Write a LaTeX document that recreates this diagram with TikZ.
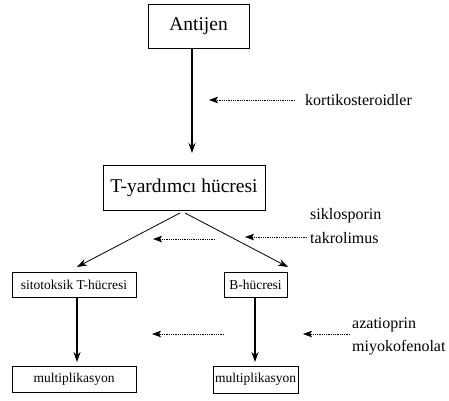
\documentclass[tikz,border=0pt]{standalone}
\usepackage{fontspec}
\setmainfont{Liberation Serif}
\usetikzlibrary{arrows.meta}
\begin{document}
\begin{tikzpicture}[x=1pt,y=-1pt,
  box/.style={draw, line width=0.8pt, minimum height=#1, inner sep=0pt},
  big/.style={font=\fontsize{19.5}{21}\selectfont},
  small/.style={font=\fontsize{13.5}{15}\selectfont},
  lab/.style={font=\fontsize{16}{18}\selectfont, anchor=west, inner sep=0pt},
  arr/.style={line width=1.1pt, -{Stealth[length=10pt,width=7pt]}},
  dotarr/.style={line width=0.6pt, dash pattern=on 0.8pt off 1pt, -{Stealth[length=9pt,width=6.5pt,inset=2pt]}}]
\useasboundingbox (0,0) rectangle (449,400);
\node[box=44pt, big, minimum width=101pt] (antijen) at (198.5,26) {Antijen};
\node[box=45pt, big, minimum width=162pt] (tyard) at (184,187.5) {T-yardımcı hücresi};
\node[box=25pt, small, minimum width=124pt] (sito) at (74,284.5) {sitotoksik T-hücresi};
\node[box=25pt, small, minimum width=63pt] (bh) at (255.5,284.5) {B-hücresi};
\node[box=26pt, small, minimum width=124pt] (multl) at (74,379) {multiplikasyon};
\node[box=27pt, small, minimum width=85pt] (multr) at (255.5,379.5) {multiplikasyon};
% main arrows
\coordinate (a1) at (192,48);
\coordinate (a2) at (192,153);
\draw[arr] (a1) -- (a2);
\coordinate (d0l) at (180,213);
\coordinate (d0r) at (185,213);
\coordinate (d1) at (77,267);
\coordinate (d2) at (288,267);
\draw[line width=0.8pt, -{Stealth[length=10pt,width=7pt]}] (d0l) -- (d1);
\draw[line width=0.8pt, -{Stealth[length=10pt,width=7pt]}] (d0r) -- (d2);
\coordinate (s1) at (77,297);
\coordinate (s2) at (77,362);
\draw[arr] (s1) -- (s2);
\coordinate (b1) at (255,297);
\coordinate (b2) at (255,362);
\draw[arr] (b1) -- (b2);
% labels
\node[lab] (kort) at (305,100) {kortikosteroidler};
\node[lab] (sik) at (310,216) {siklosporin};
\node[lab] (tak) at (310,238) {takrolimus};
\node[lab] (aza) at (352,325) {azatioprin};
\node[lab] (miy) at (352,348) {miyokofenolat};
% dotted arrows
\coordinate (k1) at (295,100);
\coordinate (k2) at (209,100);
\draw[dotarr] (k1) -- (k2);
\coordinate (m1) at (215,239);
\coordinate (m2) at (153,239);
\draw[dotarr] (m1) -- (m2);
\coordinate (t1) at (307,237);
\coordinate (t2) at (245,237);
\draw[dotarr] (t1) -- (t2);
\coordinate (n1) at (224,334);
\coordinate (n2) at (152,334);
\draw[dotarr] (n1) -- (n2);
\coordinate (z1) at (350,334);
\coordinate (z2) at (303,334);
\draw[dotarr] (z1) -- (z2);
\end{tikzpicture}
\end{document}
